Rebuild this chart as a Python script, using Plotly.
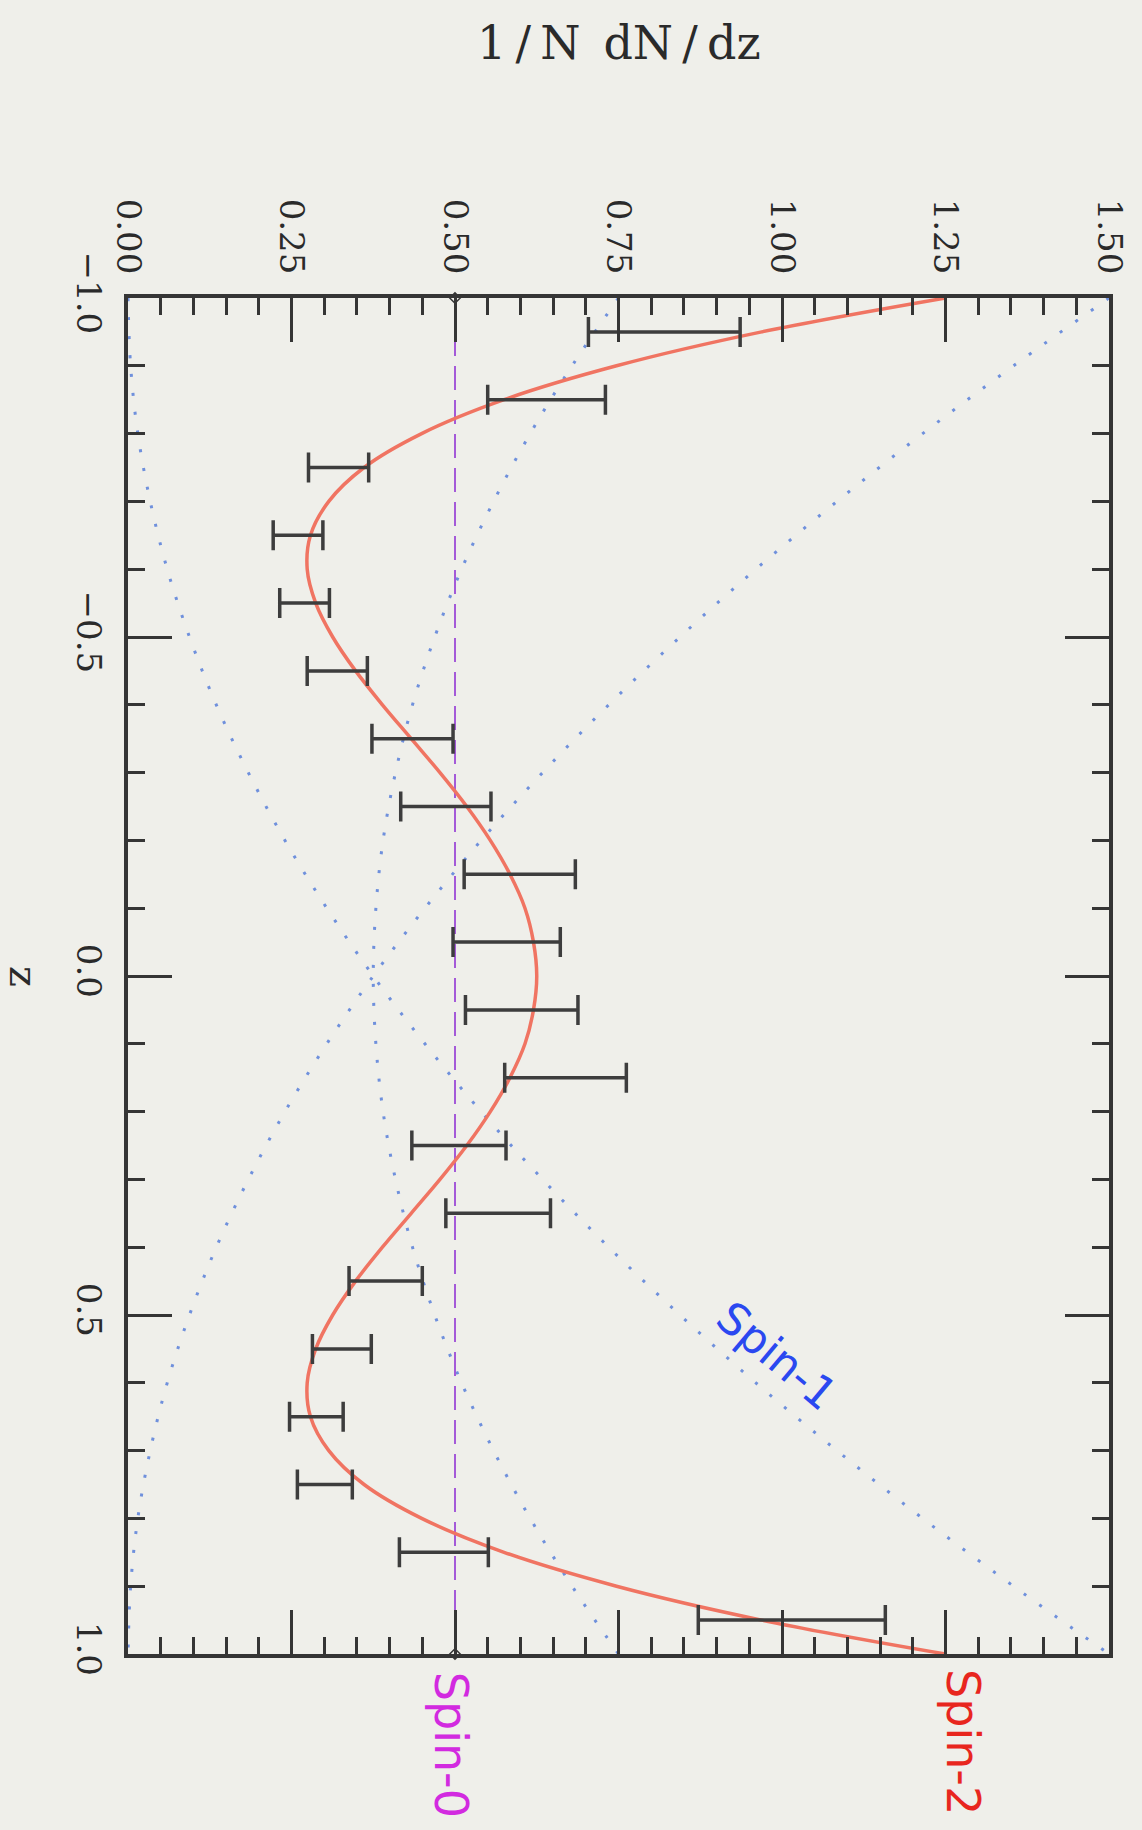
import plotly.graph_objects as go

# ---- data ----
# measured bins (z) with central value and half-width of the error bar
z_bins = [-0.95, -0.85, -0.75, -0.65, -0.55, -0.45, -0.35, -0.25, -0.15, -0.05,
          0.05, 0.15, 0.25, 0.35, 0.45, 0.55, 0.65, 0.75, 0.85, 0.95]
data_val = [0.820, 0.640, 0.322, 0.260, 0.270, 0.320, 0.435, 0.486, 0.599, 0.579,
            0.602, 0.669, 0.506, 0.566, 0.394, 0.327, 0.288, 0.301, 0.483, 1.015]
data_err = [0.116, 0.090, 0.046, 0.038, 0.038, 0.046, 0.062, 0.069, 0.085, 0.082,
            0.086, 0.093, 0.072, 0.080, 0.056, 0.045, 0.041, 0.042, 0.068, 0.143]

# Spin-2 curve (solid)
z_fine = [-1.00, -0.95, -0.90, -0.85, -0.80, -0.75, -0.70, -0.65, -0.60, -0.55, -0.50,
          -0.45, -0.40, -0.35, -0.30, -0.25, -0.20, -0.15, -0.10, -0.05, 0.00,
          0.05, 0.10, 0.15, 0.20, 0.25, 0.30, 0.35, 0.40, 0.45, 0.50,
          0.55, 0.60, 0.65, 0.70, 0.75, 0.80, 0.85, 0.90, 0.95, 1.00]
spin2 = [1.250, 0.969, 0.747, 0.575, 0.449, 0.361, 0.307, 0.279, 0.274, 0.287, 0.313,
         0.348, 0.389, 0.433, 0.477, 0.518, 0.554, 0.584, 0.607, 0.620, 0.625,
         0.620, 0.607, 0.584, 0.554, 0.518, 0.477, 0.433, 0.389, 0.348, 0.313,
         0.287, 0.274, 0.279, 0.307, 0.361, 0.449, 0.575, 0.747, 0.969, 1.250]

# Spin-1 curves (dotted)
z_coarse = [-1.0, -0.9, -0.8, -0.7, -0.6, -0.5, -0.4, -0.3, -0.2, -0.1, 0.0,
            0.1, 0.2, 0.3, 0.4, 0.5, 0.6, 0.7, 0.8, 0.9, 1.0]
spin1_a = [1.500, 1.354, 1.215, 1.084, 0.960, 0.844, 0.735, 0.634, 0.540, 0.454, 0.375,
           0.304, 0.240, 0.184, 0.135, 0.094, 0.060, 0.034, 0.015, 0.004, 0.000]
spin1_b = [0.000, 0.004, 0.015, 0.034, 0.060, 0.094, 0.135, 0.184, 0.240, 0.304, 0.375,
           0.454, 0.540, 0.634, 0.735, 0.844, 0.960, 1.084, 1.215, 1.354, 1.500]
spin1_c = [0.750, 0.679, 0.615, 0.559, 0.510, 0.469, 0.435, 0.409, 0.390, 0.379, 0.375,
           0.379, 0.390, 0.409, 0.435, 0.469, 0.510, 0.559, 0.615, 0.679, 0.750]

# Spin-0 flat line
z_ends = [-1.0, 1.0]
spin0 = [0.5, 0.5]

val_ticks = [0.0, 0.25, 0.5, 0.75, 1.0, 1.25, 1.5]
val_ticktext = ["0.00", "0.25", "0.50", "0.75", "1.00", "1.25", "1.50"]
z_ticks = [-1.0, -0.5, 0.0, 0.5, 1.0]
z_ticktext = ["\u22121.0", "\u22120.5", "0.0", "0.5", "1.0"]

BG = "#efefea"
AX = "#353535"
BLUE_DOT = "#6f90dc"

fig = go.Figure()

for vals in (spin1_a, spin1_b):
    fig.add_trace(go.Scatter(x=vals, y=z_coarse, mode="lines",
                             line=dict(color=BLUE_DOT, width=3, dash="3px,16px", shape="spline"),
                             hoverinfo="skip", showlegend=False))
fig.add_trace(go.Scatter(x=spin1_c, y=z_coarse, mode="lines",
                         line=dict(color=BLUE_DOT, width=3, dash="3px,16px", shape="spline"),
                         hoverinfo="skip", showlegend=False))

fig.add_trace(go.Scatter(x=spin0, y=z_ends, mode="lines+markers",
                         line=dict(color="#a45ad8", width=2, dash="24px,10px"),
                         marker=dict(symbol="diamond-open", size=8, color="#333333", line=dict(width=1.5)),
                         cliponaxis=False, hoverinfo="skip", showlegend=False))

fig.add_trace(go.Scatter(x=spin2, y=z_fine, mode="lines",
                         line=dict(color="#f07462", width=3.5, shape="spline"),
                         hoverinfo="skip", showlegend=False))

fig.add_trace(go.Scatter(x=data_val, y=z_bins, mode="markers",
                         marker=dict(size=1, color="rgba(0,0,0,0)"),
                         error_x=dict(type="data", array=data_err, symmetric=True,
                                      thickness=3.5, width=15, color="#3d3d3d"),
                         hoverinfo="skip", showlegend=False))

tickfont = dict(family="DejaVu Serif", size=34, color="#2a2a2a")

fig.update_layout(
    width=1142, height=1830,
    margin=dict(l=128, r=30, t=298, b=176),
    paper_bgcolor=BG, plot_bgcolor=BG,
    showlegend=False,
    xaxis=dict(
        side="top", range=[0, 1.5], tickmode="array", tickvals=val_ticks, ticktext=val_ticktext,
        tickangle=90, ticks="inside", ticklen=44, tickwidth=2.5, tickcolor=AX,
        minor=dict(tickmode="array", tickvals=[i * 0.05 for i in range(31)],
                   ticks="inside", ticklen=17, tickwidth=2.5, tickcolor=AX),
        showline=True, linewidth=3.5, linecolor=AX, mirror="ticks",
        showgrid=False, zeroline=False, tickfont=tickfont, ticklabelstandoff=8,
    ),
    yaxis=dict(
        range=[1, -1], tickmode="array", tickvals=z_ticks, ticktext=z_ticktext,
        tickangle=90, ticks="inside", ticklen=44, tickwidth=2.5, tickcolor=AX,
        minor=dict(tickmode="array", tickvals=[-1 + i * 0.1 for i in range(21)],
                   ticks="inside", ticklen=17, tickwidth=2.5, tickcolor=AX),
        showline=True, linewidth=3.5, linecolor=AX, mirror="ticks",
        showgrid=False, zeroline=False, tickfont=tickfont, ticklabelstandoff=6,
    ),
)

fig.add_annotation(text="1\u2009/\u2009N\u2002dN\u2009/\u2009dz", xref="paper", yref="paper",
                   x=0.5, y=1.188, xanchor="center", yanchor="middle", showarrow=False,
                   font=dict(family="DejaVu Serif", size=46, color="#2a2a2a"))
fig.add_annotation(text="z", xref="paper", yref="y", x=-0.106, y=0.0, textangle=90,
                   xanchor="center", yanchor="middle", showarrow=False,
                   font=dict(family="DejaVu Serif", size=40, color="#2a2a2a"))

hand = "DejaVu Sans"
fig.add_annotation(text="Spin-2", xref="x", yref="paper", x=1.277, y=-0.065, textangle=90,
                   xanchor="center", yanchor="middle",
                   showarrow=False, font=dict(family=hand, size=46, color="#e8261e"))
fig.add_annotation(text="Spin-0", xref="x", yref="paper", x=0.494, y=-0.067, textangle=90,
                   xanchor="center", yanchor="middle",
                   showarrow=False, font=dict(family=hand, size=46, color="#d22ae0"))
fig.add_annotation(text="Spin-1", xref="x", yref="y", x=0.992, y=0.560, textangle=40,
                   xanchor="center", yanchor="middle",
                   showarrow=False, font=dict(family=hand, size=44, color="#2a48f0"))

fig.write_html("out.html")
